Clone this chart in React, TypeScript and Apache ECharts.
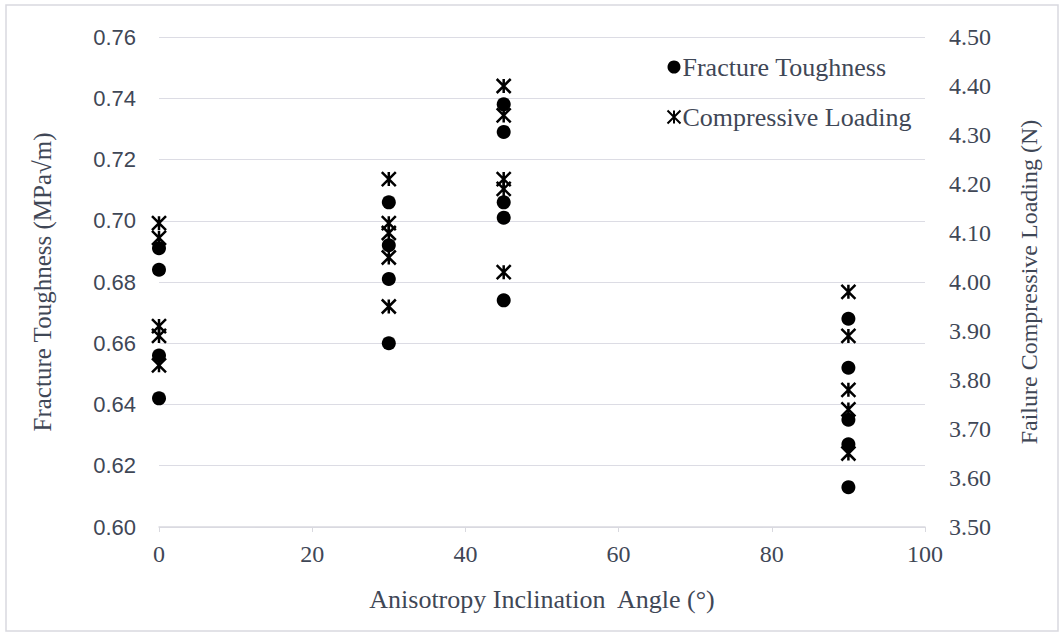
import React, { useEffect, useRef } from "react";
import * as echarts from "echarts";

const ftAngles = [0, 0, 0, 0, 30, 30, 30, 30, 45, 45, 45, 45, 45, 90, 90, 90, 90, 90];
const ftValues = [0.691, 0.684, 0.656, 0.642, 0.706, 0.692, 0.681, 0.660, 0.738, 0.729, 0.706, 0.701, 0.674, 0.668, 0.652, 0.635, 0.627, 0.613];
const clAngles = [0, 0, 0, 0, 0, 30, 30, 30, 30, 30, 45, 45, 45, 45, 45, 90, 90, 90, 90, 90];
const clValues = [4.12, 4.09, 3.91, 3.89, 3.83, 4.21, 4.12, 4.10, 4.05, 3.95, 4.40, 4.34, 4.21, 4.19, 4.02, 3.98, 3.89, 3.78, 3.74, 3.65];

const seriesNames = ["Fracture Toughness", "Compressive Loading"];
const xName = "Anisotropy Inclination  Angle (°)";
const yLeftName = "Fracture Toughness (MPa√m)";
const yRightName = "Failure Compressive Loading (N)";

const STAR = "path://M0,0L10,10M10,0L0,10M5,0L5,10";
const TEXT = "#3f4756";
const SERIF = "Liberation Serif, serif";
const SANS = "Liberation Sans, sans-serif";

export default function App() {
  const ref = useRef<HTMLDivElement>(null);
  useEffect(() => {
    document.body.style.margin = "0";
    const chart = echarts.init(ref.current!, null, { renderer: "svg" });
    chart.setOption({
      animation: false,
      backgroundColor: "#ffffff",
      graphic: [
        {
          type: "rect",
          shape: { x: 6, y: 5, width: 1052, height: 626 },
          style: { fill: "none", stroke: "#d9d9df", lineWidth: 1.5 },
          silent: true,
        },
      ],
      grid: { left: 159, right: 138, top: 37, bottom: 108 },
      legend: {
        orient: "vertical",
        left: 660,
        top: 49,
        itemGap: 24,
        itemWidth: 13,
        itemHeight: 13,
        textStyle: { fontFamily: SERIF, fontSize: 26, color: TEXT, padding: [0, 0, 0, -3] },
        data: [
          { name: seriesNames[0], icon: "circle", itemStyle: { color: "#000", opacity: 1 } },
          { name: seriesNames[1] },
        ],
      },
      xAxis: {
        type: "value",
        min: 0,
        max: 100,
        interval: 20,
        name: xName,
        nameLocation: "middle",
        nameGap: 59,
        nameTextStyle: { fontFamily: SERIF, fontSize: 26, color: TEXT },
        axisLine: { show: true, lineStyle: { color: "#d9d9df", width: 1.5 } },
        axisTick: { show: true, length: 5, lineStyle: { color: "#d9d9df" } },
        axisLabel: { fontFamily: SERIF, fontSize: 24, color: TEXT, margin: 15 },
        splitLine: { show: false },
      },
      yAxis: [
        {
          type: "value",
          min: 0.6,
          max: 0.76,
          interval: 0.02,
          name: yLeftName,
          nameLocation: "middle",
          nameGap: 104,
          nameTextStyle: { fontFamily: SERIF, fontSize: 25, color: TEXT },
          axisLine: { show: false },
          axisTick: { show: false },
          axisLabel: { fontFamily: SANS, fontSize: 22, color: TEXT, margin: 23, formatter: (v: number) => v.toFixed(2) },
          splitLine: { show: true, lineStyle: { color: "#dcdce4", width: 1.2 } },
        },
        {
          type: "value",
          min: 3.5,
          max: 4.5,
          interval: 0.1,
          name: yRightName,
          nameLocation: "middle",
          nameGap: 92,
          nameTextStyle: { fontFamily: SERIF, fontSize: 24, color: TEXT },
          axisLine: { show: false },
          axisTick: { show: false },
          axisLabel: { fontFamily: SERIF, fontSize: 24, color: TEXT, margin: 24, formatter: (v: number) => v.toFixed(2) },
          splitLine: { show: false },
        },
      ],
      series: [
        {
          name: seriesNames[0],
          type: "scatter",
          yAxisIndex: 0,
          symbol: "circle",
          symbolSize: 14,
          itemStyle: { color: "#000", opacity: 1 },
          data: ftAngles.map((a, i) => [a, ftValues[i]]),
          z: 3,
        },
        {
          name: seriesNames[1],
          type: "scatter",
          yAxisIndex: 1,
          symbol: STAR,
          symbolSize: 14,
          itemStyle: { color: "none", borderColor: "#000", borderWidth: 2.5, opacity: 1 },
          data: clAngles.map((a, i) => [a, clValues[i]]),
          z: 4,
        },
      ],
    });
    return () => chart.dispose();
  }, []);
  return <div ref={ref} style={{ width: 1063, height: 635 }} />;
}
